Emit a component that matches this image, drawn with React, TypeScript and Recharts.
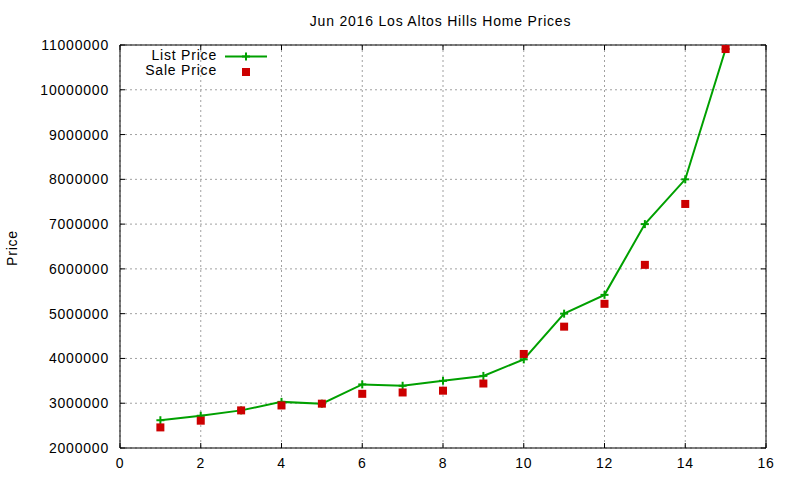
import React from 'react';
import { LineChart, Line, XAxis, YAxis, CartesianGrid, Legend } from 'recharts';

const indexValues = [1, 2, 3, 4, 5, 6, 7, 8, 9, 10, 11, 12, 13, 14, 15];
const listPrice = [2620000, 2720000, 2840000, 3030000, 2990000, 3420000, 3390000, 3500000, 3610000, 3980000, 5000000, 5420000, 7000000, 8000000, 10910000];
const salePrice = [2460000, 2610000, 2840000, 2950000, 2990000, 3210000, 3240000, 3280000, 3440000, 4100000, 4710000, 5220000, 6090000, 7450000, 10910000];
const xTicks = [0, 2, 4, 6, 8, 10, 12, 14, 16];
const yTicks = [2000000, 3000000, 4000000, 5000000, 6000000, 7000000, 8000000, 9000000, 10000000, 11000000];
const titleText = 'Jun 2016 Los Altos Hills Home Prices';
const yLabelText = 'Price';
const listName = 'List Price';
const saleName = 'Sale Price';

const data = indexValues.map((x, i) => ({ x, list: listPrice[i], sale: salePrice[i] }));

const FONT = '"Liberation Sans", Arial, sans-serif';
const GREEN = '#00a000';
const RED = '#cc0000';
const TICK = 5;
const textStyle = { fontFamily: FONT, fontSize: 14, letterSpacing: '0.8px', fill: '#000' };

const LeftTick = (props: any) => {
  const { x, y, payload } = props;
  return (
    <g>
      <line x1={x} x2={x + TICK} y1={y} y2={y} stroke="#000" strokeWidth={1} />
      <text x={x - 11} y={y} textAnchor="end" dominantBaseline="central" style={textStyle}>
        {payload.value}
      </text>
    </g>
  );
};

const RightTick = (props: any) => {
  const { x, y } = props;
  return <line x1={x - TICK} x2={x} y1={y} y2={y} stroke="#000" strokeWidth={1} />;
};

const BottomTick = (props: any) => {
  const { x, y, payload } = props;
  return (
    <g>
      <line x1={x} x2={x} y1={y - TICK} y2={y} stroke="#000" strokeWidth={1} />
      <text x={x} y={y + 15} textAnchor="middle" dominantBaseline="central" style={textStyle}>
        {payload.value}
      </text>
    </g>
  );
};

const TopTick = (props: any) => {
  const { x, y } = props;
  return <line x1={x} x2={x} y1={y} y2={y + TICK} stroke="#000" strokeWidth={1} />;
};

const PlusDot = (props: any) => {
  const { cx, cy, index } = props;
  if (cx == null || cy == null) return null;
  return (
    <g key={`p${index}`}>
      <line x1={cx - 4} x2={cx + 4} y1={cy} y2={cy} stroke={GREEN} strokeWidth={2} />
      <line x1={cx} x2={cx} y1={cy - 4} y2={cy + 4} stroke={GREEN} strokeWidth={2} />
    </g>
  );
};

const SquareDot = (props: any) => {
  const { cx, cy, index } = props;
  if (cx == null || cy == null) return null;
  return <rect key={`s${index}`} x={cx - 4} y={cy - 4} width={8} height={8} fill={RED} />;
};

const YLabel = (props: any) => {
  const vb = props.viewBox || {};
  const cx = vb.x + 12;
  const cy = vb.y + vb.height / 2 + 1.5;
  return (
    <text x={cx} y={cy} textAnchor="middle" dominantBaseline="central" transform={`rotate(-90 ${cx} ${cy})`} style={textStyle}>
      {yLabelText}
    </text>
  );
};

const LegendContent = () => (
  <svg width={800} height={90} style={{ display: 'block' }}>
    <text x={440.5} y={21} textAnchor="middle" dominantBaseline="central" style={textStyle}>{titleText}</text>
    <text x={217} y={55} textAnchor="end" dominantBaseline="central" style={textStyle}>{listName}</text>
    <line x1={225} x2={267} y1={56.5} y2={56.5} stroke={GREEN} strokeWidth={2} />
    <line x1={242} x2={250} y1={56.5} y2={56.5} stroke={GREEN} strokeWidth={2} />
    <line x1={246} x2={246} y1={52.5} y2={60.5} stroke={GREEN} strokeWidth={2} />
    <text x={217} y={70} textAnchor="end" dominantBaseline="central" style={textStyle}>{saleName}</text>
    <rect x={242} y={68} width={8} height={8} fill={RED} />
  </svg>
);

export default function App() {
  return (
    <div style={{ position: 'absolute', left: 0, top: 0, width: 800, height: 480, background: '#fff' }}>
      <LineChart width={800} height={480} data={data} margin={{ top: 44, right: 33, bottom: 0, left: 0 }}>
        <CartesianGrid stroke="#a0a0a0" strokeDasharray="2 3" xAxisId="bottom" yAxisId="left" />
        <XAxis
          xAxisId="bottom"
          dataKey="x"
          type="number"
          domain={[0, 16]}
          ticks={xTicks}
          height={32}
          tickSize={0}
          tickMargin={0}
          tickLine={false}
          axisLine={{ stroke: '#000', strokeWidth: 1 }}
          tick={<BottomTick />}
          interval={0}
        />
        <XAxis
          xAxisId="top"
          orientation="top"
          dataKey="x"
          type="number"
          domain={[0, 16]}
          ticks={xTicks}
          height={1}
          tickSize={0}
          tickMargin={0}
          tickLine={false}
          axisLine={{ stroke: '#000', strokeWidth: 1 }}
          tick={<TopTick />}
          interval={0}
        />
        <YAxis
          yAxisId="left"
          type="number"
          domain={[2000000, 11000000]}
          ticks={yTicks}
          width={120}
          tickSize={0}
          tickMargin={0}
          tickLine={false}
          axisLine={{ stroke: '#000', strokeWidth: 1 }}
          tick={<LeftTick />}
          interval={0}
          allowDataOverflow
          label={<YLabel />}
        />
        <YAxis
          yAxisId="right"
          orientation="right"
          type="number"
          domain={[2000000, 11000000]}
          ticks={yTicks}
          width={1}
          tickSize={0}
          tickMargin={0}
          tickLine={false}
          axisLine={{ stroke: '#000', strokeWidth: 1 }}
          tick={<RightTick />}
          interval={0}
          allowDataOverflow
        />
        <Legend
          layout="vertical"
          align="center"
          verticalAlign="middle"
          content={<LegendContent />}
          wrapperStyle={{ position: 'absolute', left: 0, top: 0, width: 800, height: 90, pointerEvents: 'none' }}
        />
        <Line
          xAxisId="bottom"
          yAxisId="left"
          dataKey="list"
          name={listName}
          stroke={GREEN}
          strokeWidth={2}
          dot={<PlusDot />}
          activeDot={false}
          isAnimationActive={false}
        />
        <Line
          xAxisId="bottom"
          yAxisId="left"
          dataKey="sale"
          name={saleName}
          stroke="none"
          dot={<SquareDot />}
          activeDot={false}
          isAnimationActive={false}
        />
      </LineChart>
    </div>
  );
}
